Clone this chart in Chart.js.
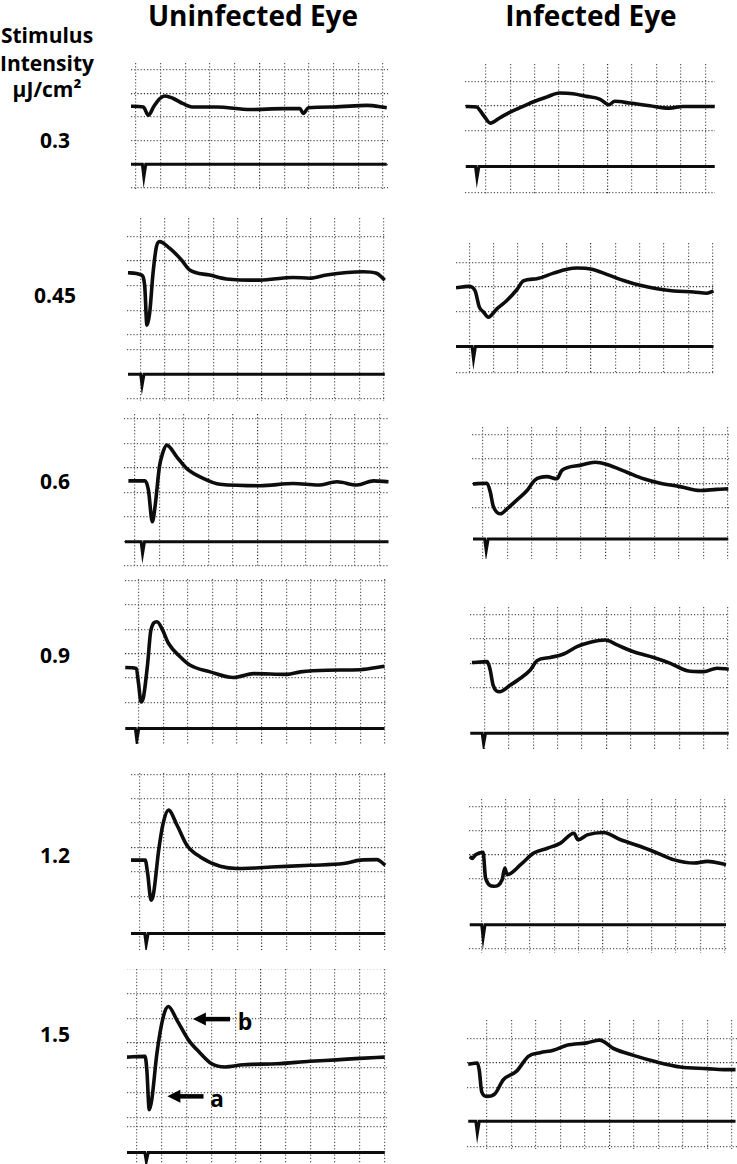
<!DOCTYPE html>
<html lang="en">
<head>
<meta charset="UTF-8">
<title>ERG - Uninfected vs Infected Eye</title>
<script src="https://cdn.jsdelivr.net/npm/chart.js"></script>
<style>
    body {
        margin: 0;
        background: #fff;
        font-family: "Open Sans", Lato, sans-serif;
    }
    #page {
        position: relative;
        width: 737px;
        height: 1164px;
        overflow: hidden;
    }
    .lbl {
        position: absolute;
        font-weight: bold;
        color: #000;
        white-space: nowrap;
        line-height: 1;
        transform: translate(-50%, -50%);
    }
    .head { font-size: 28px; }
    .side { font-size: 21px; }
    .mark { font-size: 23px; }
    canvas { position: absolute; }
</style>
</head>
<body>
<div id="page">
    <div class="lbl head" style="left:253px;top:15px">Uninfected Eye</div>
    <div class="lbl head" style="left:591px;top:15px">Infected Eye</div>
    <div class="lbl side" style="left:47px;top:35px">Stimulus</div>
    <div class="lbl side" style="left:47px;top:63px">Intensity</div>
    <div class="lbl side" style="left:47px;top:89px">μJ/cm²</div>
    <div class="lbl mark" style="left:245px;top:1021px">b</div>
    <div class="lbl mark" style="left:217px;top:1098px">a</div>
</div>
<script>
    // stimulus intensities (uJ/cm2), one row of panels each
    const intensities = ['0.3', '0.45', '0.6', '0.9', '1.2', '1.5'];
    const labelY = [140, 295, 481, 655, 855, 1034];

    // ERG traces: [time (div), amplitude (div)]
    const uninf03 = [[-0.2,-0.54],[0.3,-0.57],[0.5,-0.92],[0.73,-0.54],[0.97,-0.21],[1.17,-0.1],[1.51,-0.21],[1.91,-0.43],[2.32,-0.57],[3.27,-0.57],[4.62,-0.68],[5.96,-0.64],[6.64,-0.64],[6.77,-0.85],[6.98,-0.6],[7.99,-0.57],[9.34,-0.5],[10.15,-0.6]];
    const uninf045 = [[-0.51,-0.48],[0.04,-0.57],[0.18,-1.05],[0.27,-2.61],[0.38,-2.13],[0.52,-0.5],[0.66,0.58],[0.79,0.79],[1.2,0.52],[1.69,0.04],[2.03,-0.37],[2.85,-0.57],[3.54,-0.73],[4.9,-0.78],[6.28,-0.67],[6.97,-0.7],[7.65,-0.57],[9.16,-0.44],[9.71,-0.5],[10.05,-0.78]];
    const uninf06 = [[-0.27,-0.53],[0.41,-0.53],[0.55,-0.91],[0.71,-2.2],[0.82,-1.59],[1.0,0.04],[1.13,0.59],[1.3,0.93],[1.71,0.45],[2.12,-0.03],[2.8,-0.43],[3.48,-0.67],[5.12,-0.73],[6.49,-0.64],[7.5,-0.7],[8.27,-0.57],[9.09,-0.7],[9.77,-0.53],[10.38,-0.57]];
    const uninf09 = [[-0.54,-0.57],[-0.09,-0.61],[0,-1.23],[0.1,-1.98],[0.2,-1.78],[0.37,-0.41],[0.5,0.95],[0.75,1.3],[0.95,1.02],[1.22,0.41],[1.7,-0.14],[2.1,-0.48],[2.91,-0.75],[3.86,-0.98],[4.67,-0.82],[6.03,-0.85],[6.57,-0.75],[7.66,-0.68],[9.01,-0.66],[9.99,-0.52]];
    const uninf12 = [[-0.35,-0.52],[0.23,-0.52],[0.33,-1.07],[0.47,-2.16],[0.57,-1.89],[0.78,-0.11],[0.96,0.98],[1.18,1.53],[1.53,0.91],[1.93,0.09],[2.48,-0.39],[3.29,-0.77],[3.98,-0.86],[5.61,-0.79],[6.97,-0.73],[8.33,-0.66],[9.01,-0.52],[9.69,-0.5],[10.03,-0.73]];
    const uninf15 = [[-0.4,-0.57],[0.33,-0.54],[0.4,-1.08],[0.5,-2.7],[0.6,-2.3],[0.81,-0.4],[1.07,1.08],[1.27,1.48],[1.61,0.94],[2.08,0.13],[2.55,-0.4],[3.02,-0.84],[3.56,-0.97],[4.3,-0.88],[5.65,-0.84],[6.99,-0.74],[8.06,-0.68],[9.0,-0.62],[10.01,-0.57]];

    const inf03 = [[-0.82,-0.03],[-0.38,-0.05],[-0.11,-0.37],[0.19,-0.71],[0.57,-0.5],[0.98,-0.27],[1.53,-0.03],[2.01,0.18],[2.49,0.35],[3.03,0.52],[3.58,0.49],[4.13,0.38],[4.67,0.27],[5.05,0.04],[5.29,0.18],[5.9,0.11],[6.72,0],[7.54,-0.1],[8.09,-0.03],[8.77,-0.03],[9.39,-0.03]];
    const inf045 = [[-0.55,-0.03],[-0.04,0.03],[0.23,-0.14],[0.41,-0.82],[0.58,-1.02],[0.78,-1.23],[1.13,-0.89],[1.54,-0.55],[1.95,-0.11],[2.22,0.25],[2.77,0.34],[3.46,0.57],[4.01,0.73],[4.42,0.78],[5.04,0.73],[5.65,0.52],[6.34,0.27],[7.02,0.07],[7.71,-0.07],[8.4,-0.16],[9.22,-0.2],[9.77,-0.25],[10.04,-0.16]];
    const inf06 = [[-0.41,-0.03],[0.16,0],[0.3,-0.37],[0.41,-0.91],[0.71,-1.25],[0.98,-1.05],[1.39,-0.68],[1.8,-0.3],[2.13,0.14],[2.61,0.27],[3.02,0.18],[3.22,0.52],[3.97,0.73],[4.58,0.86],[5.06,0.77],[5.88,0.45],[6.56,0.18],[7.24,0],[8.05,-0.14],[8.87,-0.3],[9.55,-0.25],[10.02,-0.23]];
    const inf09 = [[-0.52,0.03],[0.11,0.07],[0.23,-0.27],[0.35,-0.89],[0.62,-1.16],[1.06,-0.89],[1.47,-0.61],[1.88,-0.27],[2.16,0.11],[2.7,0.24],[3.25,0.38],[3.8,0.68],[4.35,0.86],[4.97,0.95],[5.45,0.75],[6.13,0.47],[6.95,0.24],[7.64,0],[8.33,-0.3],[9.01,-0.34],[9.56,-0.2],[10.04,-0.24]];
    const inf12 = [[-0.47,-0.07],[-0.37,-0.15],[-0.23,0],[0.08,0.1],[0.18,-0.96],[0.52,-1.3],[0.86,-1.03],[0.97,-0.55],[1.07,-0.82],[1.62,-0.41],[2.16,0.07],[2.72,0.27],[3.26,0.48],[3.81,0.89],[3.98,0.62],[4.36,0.82],[5.02,0.92],[5.73,0.62],[6.55,0.34],[7.24,0.07],[7.93,-0.21],[8.75,-0.34],[9.3,-0.27],[10.06,-0.41]];
    const inf15 = [[-0.75,-0.05],[-0.38,0],[-0.3,-0.3],[-0.2,-1.18],[0,-1.36],[0.34,-1.25],[0.68,-0.68],[1.22,-0.33],[1.7,0.27],[2.18,0.42],[2.72,0.52],[3.27,0.72],[4.08,0.82],[4.6,0.93],[5.17,0.59],[5.98,0.31],[6.94,0.04],[7.89,-0.16],[8.98,-0.23],[9.66,-0.27],[10.14,-0.27]];

    // stimulus marker channel (flash artefact)
    const stimU03 = [[-0.2,-3.01],[0.26,-3.01],[0.32,-3.56],[0.4,-3.01],[10.15,-3.01]];
    const stimU045 = [[-0.51,-4.61],[0.01,-4.61],[0.07,-5.06],[0.15,-4.61],[10.05,-4.61]];
    const stimU06 = [[-0.41,-3.02],[0.25,-3.02],[0.31,-3.5],[0.39,-3.02],[10.38,-3.02]];
    const stimU09 = [[-0.54,-3.07],[-0.13,-3.07],[-0.07,-3.55],[0.01,-3.07],[9.99,-3.07]];
    const stimU12 = [[-0.35,-3.52],[0.21,-3.52],[0.27,-3.98],[0.35,-3.52],[10.03,-3.52]];
    const stimU15 = [[-0.4,-4.43],[0.32,-4.43],[0.38,-4.79],[0.46,-4.43],[10.01,-4.43]];
    const stimI03 = [[-0.82,-2.48],[-0.42,-2.48],[-0.36,-2.95],[-0.28,-2.48],[9.39,-2.48]];
    const stimI045 = [[-0.55,-2.43],[0.11,-2.43],[0.17,-2.94],[0.25,-2.43],[10.04,-2.43]];
    const stimI06 = [[-0.41,-2.28],[0.07,-2.28],[0.13,-2.76],[0.21,-2.28],[10.02,-2.28]];
    const stimI09 = [[-0.59,-2.86],[-0.1,-2.86],[-0.04,-3.29],[0.04,-2.86],[10.04,-2.86]];
    const stimI12 = [[-0.47,-2.88],[0.02,-2.88],[0.08,-3.43],[0.16,-2.88],[10.06,-2.88]];
    const stimI15 = [[-0.75,-2.37],[-0.44,-2.37],[-0.38,-2.86],[-0.3,-2.37],[10.14,-2.37]];

    // a- and b-wave arrows on the 1.5 uJ/cm2 uninfected trace: [tip x, tail x, y]
    const arrowB = [2.26, 3.76, 0.97];
    const arrowA = [1.23, 2.69, -2.16];

    // where each scope screen sits on the page (px per division, origin of the grid)
    const panels = [
        { trace: uninf03,  stim: stimU03,  x0: 136,   sx: 24.7, y0: 93.3,   sy: 23.5, xr: [-0.2, 10.2],  yr: [-4.1, 1.3],  h: [1, 0, -1, -2, -3, -4] },
        { trace: uninf045, stim: stimU045, x0: 140.7, sx: 24.3, y0: 261,    sy: 24.5, xr: [-0.55, 10.1], yr: [-5.7, 1.75], h: [1, 0, -1, -2, -3, -3.6, -5.6] },
        { trace: uninf06,  stim: stimU06,  x0: 135,   sx: 24.4, y0: 467.7,  sy: 24.5, xr: [-0.45, 10.4], yr: [-4.05, 2.2], h: [2, 1, 0, -1, -2, -3, -4] },
        { trace: uninf09,  stim: stimU09,  x0: 138.3, sx: 24.6, y0: 653.3,  sy: 24.4, xr: [-0.55, 10.05],yr: [-3.7, 3.05], h: [3, 2, 1, 0, -1, -2] },
        { trace: uninf12,  stim: stimU12,  x0: 139.3, sx: 24.5, y0: 847.3,  sy: 24.4, xr: [-0.35, 10.1], yr: [-4.2, 3.05], h: [3, 2, 1, 0, -1, -2] },
        { trace: uninf15,  stim: stimU15,  x0: 136.7, sx: 24.8, y0: 1043.3, sy: 24.7, xr: [-0.4, 10.1],  yr: [-4.9, 3.0],  h: [3, 2, 1, 0, -1, -2, -3, -3.4], arrows: true },
        { trace: inf03,    stim: stimI03,  x0: 486,   sx: 24.4, y0: 106,    sy: 24.5, xr: [-0.85, 9.4],  yr: [-3.6, 1.7],  h: [1, 0, -1, -3.55] },
        { trace: inf045,   stim: stimI045, x0: 469.3, sx: 24.3, y0: 286.7,  sy: 24.4, xr: [-0.55, 10.1], yr: [-3.55, 1.8], h: [1, 0, -1, -3.5] },
        { trace: inf06,    stim: stimI06,  x0: 482.7, sx: 24.5, y0: 482.7,  sy: 24.4, xr: [-0.45, 10.05],yr: [-3.1, 2.3],  h: [2, 1, 0, -1] },
        { trace: inf09,    stim: stimI09,  x0: 484.3, sx: 24.3, y0: 663.3,  sy: 24.5, xr: [-0.6, 10.05], yr: [-3.5, 2.3],  h: [2, 1, 0, -1] },
        { trace: inf12,    stim: stimI12,  x0: 480.7, sx: 24.3, y0: 855,    sy: 24.3, xr: [-0.5, 10.1],  yr: [-4.05, 2.3], h: [2, 1, 0, -1, -3.87] },
        { trace: inf15,    stim: stimI15,  x0: 486.7, sx: 24.5, y0: 1062.7, sy: 24.5, xr: [-0.8, 10.2],  yr: [-3.5, 1.75], h: [1, 0, -1, -3.4] }
    ];

    const page = document.getElementById('page');

    intensities.forEach((txt, i) => {
        const d = document.createElement('div');
        d.className = 'lbl side';
        d.style.left = '55px';
        d.style.top = labelY[i] + 'px';
        d.textContent = txt;
        page.appendChild(d);
    });

    // draws the a/b arrows in data space of the panel
    const arrowPlugin = {
        id: 'waveArrows',
        afterDatasetsDraw(chart) {
            if (!chart.options.plugins.waveArrows.show) return;
            const ctx = chart.ctx;
            const xs = chart.scales.x, ys = chart.scales.y;
            [arrowB, arrowA].forEach(([tip, tail, y]) => {
                const x1 = xs.getPixelForValue(tip);
                const x2 = xs.getPixelForValue(tail);
                const py = ys.getPixelForValue(y);
                ctx.save();
                ctx.strokeStyle = '#000';
                ctx.fillStyle = '#000';
                ctx.lineWidth = 4.5;
                ctx.beginPath();
                ctx.moveTo(x1 + 10, py);
                ctx.lineTo(x2, py);
                ctx.stroke();
                ctx.beginPath();
                ctx.moveTo(x1, py);
                ctx.lineTo(x1 + 13, py - 6.5);
                ctx.lineTo(x1 + 13, py + 6.5);
                ctx.closePath();
                ctx.fill();
                ctx.restore();
            });
        }
    };

    function gridAxis(range, lines, centre) {
        return {
            type: 'linear',
            min: range[0],
            max: range[1],
            ticks: { display: false },
            border: { display: false, dash: [1.2, 2] },
            grid: {
                drawTicks: false,
                lineWidth: 1.2,
                color: ctx => (ctx.tick && ctx.tick.value === centre) ? '#2e2e2e' : '#5a5a5a'
            },
            afterBuildTicks: axis => {
                axis.ticks = lines.map(v => ({ value: v }));
            }
        };
    }

    panels.forEach(p => {
        const canvas = document.createElement('canvas');
        const w = Math.round((p.xr[1] - p.xr[0]) * p.sx);
        const h = Math.round((p.yr[1] - p.yr[0]) * p.sy);
        canvas.width = w;
        canvas.height = h;
        canvas.style.width = w + 'px';
        canvas.style.height = h + 'px';
        canvas.style.left = Math.round(p.x0 + p.xr[0] * p.sx) + 'px';
        canvas.style.top = Math.round(p.y0 - p.yr[1] * p.sy) + 'px';
        page.appendChild(canvas);

        const vLines = [];
        for (let v = Math.ceil(p.xr[0]); v <= p.xr[1]; v++) vLines.push(v);

        new Chart(canvas, {
            type: 'line',
            data: {
                datasets: [
                    {
                        data: p.trace.map(([x, y]) => ({ x, y })),
                        borderColor: '#0d0d0d',
                        borderWidth: 3.6,
                        pointRadius: 0,
                        cubicInterpolationMode: 'monotone'
                    },
                    {
                        data: p.stim.map(([x, y]) => ({ x, y })),
                        borderColor: '#0d0d0d',
                        borderWidth: 3,
                        pointRadius: 0,
                        tension: 0
                    }
                ]
            },
            options: {
                responsive: false,
                animation: false,
                events: [],
                layout: { padding: 0 },
                plugins: {
                    legend: { display: false },
                    tooltip: { enabled: false },
                    waveArrows: { show: !!p.arrows }
                },
                scales: {
                    x: gridAxis(p.xr, vLines, 5),
                    y: gridAxis(p.yr, p.h, 0)
                }
            },
            plugins: [arrowPlugin]
        });
    });
</script>
</body>
</html>
